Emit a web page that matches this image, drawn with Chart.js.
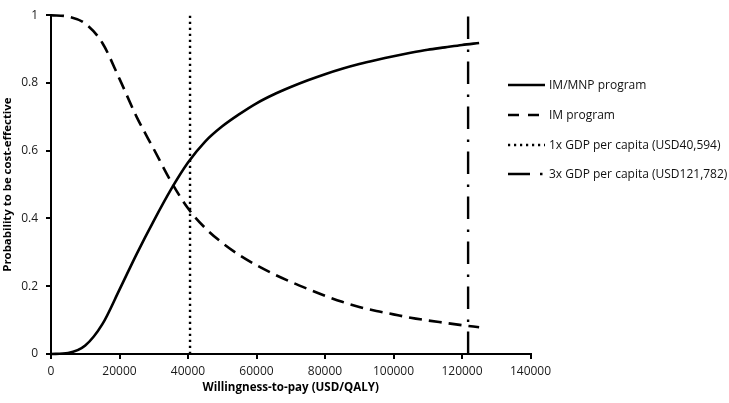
<!DOCTYPE html>
<html>
<head>
<meta charset="utf-8">
<script src="https://cdn.jsdelivr.net/npm/chart.js@4/dist/chart.umd.min.js"></script>
<style>
  html, body { margin: 0; padding: 0; background: #fff; }
  #wrap { width: 729px; height: 403px; }
</style>
</head>
<body>
<div id="wrap"><canvas id="ceac" width="729" height="403"></canvas></div>
<script>
"use strict";

// willingness-to-pay points (USD/QALY)
var wtp = [0, 5000, 10000, 15000, 20000, 25000, 30000, 35000, 40000, 45000, 50000, 55000, 60000,
    65000, 70000, 75000, 80000, 85000, 90000, 95000, 100000, 105000, 110000, 115000, 120000, 125000];

// probability cost-effective
var im_mnp = [0, 0.003, 0.025, 0.088, 0.19, 0.295, 0.393, 0.485, 0.565, 0.627, 0.672, 0.708, 0.74,
    0.766, 0.788, 0.808, 0.826, 0.842, 0.856, 0.868, 0.879, 0.889, 0.898, 0.905, 0.912, 0.918];
var im_only = [1, 0.996, 0.975, 0.918, 0.812, 0.70, 0.605, 0.51, 0.43, 0.372, 0.328, 0.292, 0.262,
    0.236, 0.213, 0.192, 0.172, 0.154, 0.139, 0.127, 0.117, 0.107, 0.099, 0.092, 0.085, 0.079];

var gdp_1x = 40594;
var gdp_3x = 121782;

var series_labels = ["IM/MNP program", "IM program",
    "1x GDP per capita (USD40,594)", "3x GDP per capita (USD121,782)"];

var x_ticks = { min: 0, max: 140000, step: 20000 };
var y_ticks = { min: 0, max: 1, step: 0.2 };

var font_family = "'Open Sans', 'DejaVu Sans', sans-serif";

function to_points(xs, ys) {
    return xs.map(function(x, i) { return { x: x, y: ys[i] }; });
}

function vline(x) {
    return [{ x: x, y: y_ticks.min }, { x: x, y: y_ticks.max }];
}

// legend drawn by hand so it sits where the original one is
var side_legend = {
    id: "side_legend",
    afterDraw: function(chart) {
        var ctx = chart.ctx;
        var x0 = 508;
        var rows = [85, 115, 145, 174];
        ctx.save();
        chart.data.datasets.forEach(function(ds, i) {
            var y = rows[i];
            ctx.beginPath();
            ctx.strokeStyle = ds.borderColor;
            ctx.lineWidth = ds.borderWidth;
            ctx.setLineDash(ds.legendDash || ds.borderDash || []);
            ctx.moveTo(x0, y);
            ctx.lineTo(x0 + 37, y);
            ctx.stroke();
            ctx.setLineDash([]);
            ctx.fillStyle = "#111";
            ctx.font = "12px " + font_family;
            ctx.textBaseline = "middle";
            ctx.textAlign = "left";
            ctx.fillText(ds.label, x0 + 41, y + 1);
        });
        ctx.restore();
    }
};

function init_chart() {
    var chart_context = document.getElementById("ceac").getContext("2d");
    return new Chart(chart_context, {
        type: "line",
        data: {
            datasets: [{
                label: series_labels[0],
                data: to_points(wtp, im_mnp),
                borderColor: "#000",
                borderWidth: 2.6,
                cubicInterpolationMode: "monotone",
                pointRadius: 0,
                clip: false
            }, {
                label: series_labels[1],
                data: to_points(wtp, im_only),
                borderColor: "#000",
                borderWidth: 2.6,
                borderDash: [13, 7],
                legendDash: [11, 9],
                cubicInterpolationMode: "monotone",
                pointRadius: 0,
                clip: false
            }, {
                label: series_labels[2],
                data: vline(gdp_1x),
                borderColor: "#000",
                borderWidth: 2.4,
                borderDash: [2.2, 3.8],
                pointRadius: 0,
                clip: false
            }, {
                label: series_labels[3],
                data: vline(gdp_3x),
                borderColor: "#000",
                borderWidth: 2.4,
                borderDash: [22.5, 9.5, 2.5, 10.5],
                legendDash: [22, 10, 2.5, 10],
                pointRadius: 0,
                clip: false
            }]
        },
        options: {
            responsive: false,
            animation: false,
            layout: { padding: { top: 5, right: 198.5, left: 0, bottom: 0 } },
            plugins: {
                legend: { display: false },
                tooltip: { enabled: false }
            },
            scales: {
                x: {
                    type: "linear",
                    min: x_ticks.min,
                    max: x_ticks.max,
                    afterFit: function(scale) { scale.height = 49; },
                    border: { color: "#000", width: 2 },
                    grid: { drawOnChartArea: false, color: "#000", lineWidth: 2, tickLength: 5 },
                    ticks: {
                        stepSize: x_ticks.step,
                        color: "#1a1a1a",
                        padding: 5,
                        maxRotation: 0,
                        font: { family: font_family, size: 12 },
                        callback: function(v) { return String(v); }
                    },
                    title: {
                        display: true,
                        text: "Willingness-to-pay (USD/QALY)",
                        color: "#000",
                        padding: { top: 0, bottom: 8 },
                        font: { family: font_family, size: 11.6, weight: "bold" }
                    }
                },
                y: {
                    min: y_ticks.min,
                    max: y_ticks.max,
                    afterFit: function(scale) { scale.width = 51; },
                    border: { color: "#000", width: 2 },
                    grid: { drawOnChartArea: false, color: "#000", lineWidth: 2, tickLength: 5 },
                    ticks: {
                        stepSize: y_ticks.step,
                        color: "#1a1a1a",
                        padding: 8,
                        font: { family: font_family, size: 12 },
                        callback: function(v) { return String(+v.toFixed(2)); }
                    },
                    title: {
                        display: true,
                        text: "Probability to be cost-effective",
                        color: "#000",
                        padding: { top: 1, bottom: 0 },
                        font: { family: font_family, size: 11.4, weight: "bold" }
                    }
                }
            }
        },
        plugins: [side_legend]
    });
}

window.addEventListener("load", function() {
    init_chart();
});
</script>
</body>
</html>
